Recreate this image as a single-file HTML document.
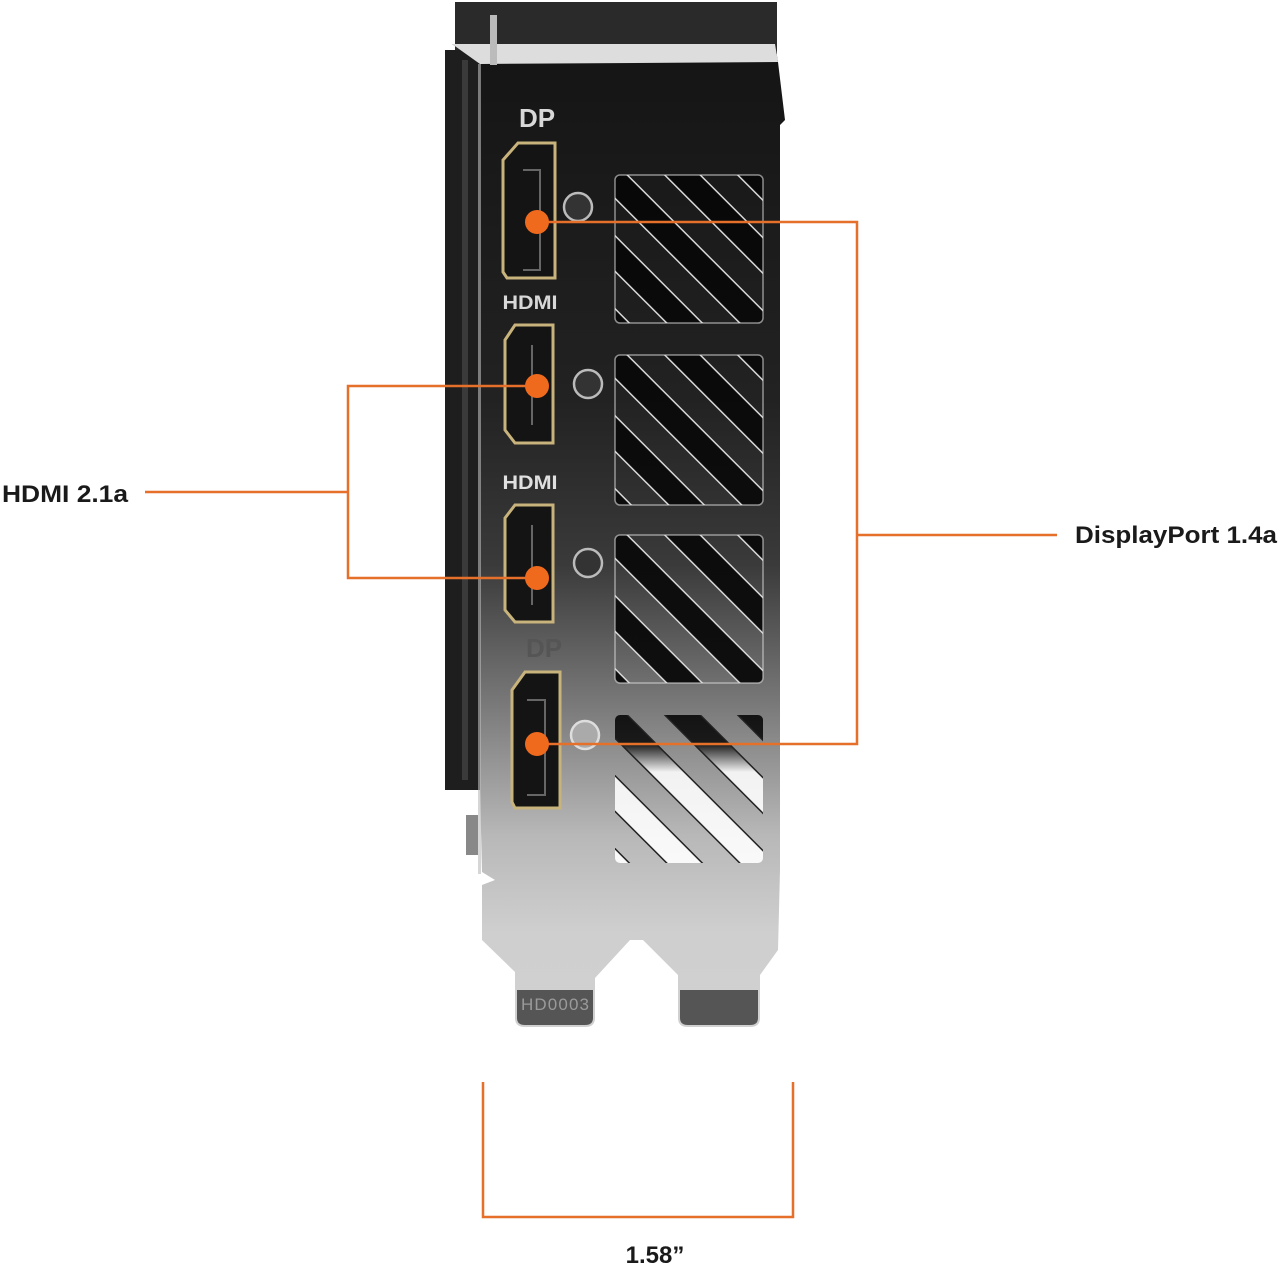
<!DOCTYPE html>
<html><head><meta charset="utf-8"><style>
html,body{margin:0;padding:0;background:#fff;}
svg{display:block}
</style></head><body>
<svg width="1280" height="1268" viewBox="0 0 1280 1268" xmlns="http://www.w3.org/2000/svg">
<defs>
<linearGradient id="metal" x1="0" y1="60" x2="0" y2="1030" gradientUnits="userSpaceOnUse">
<stop offset="0" stop-color="#151515"/>
<stop offset="0.35" stop-color="#222"/>
<stop offset="0.52" stop-color="#3a3a3a"/>
<stop offset="0.66" stop-color="#777"/>
<stop offset="0.8" stop-color="#b8b8b8"/>
<stop offset="0.9" stop-color="#cfcfcf"/>
<stop offset="1" stop-color="#d0d0d0"/>
</linearGradient>
<linearGradient id="hole" x1="0" y1="170" x2="0" y2="870" gradientUnits="userSpaceOnUse">
<stop offset="0" stop-color="#080808"/>
<stop offset="0.75" stop-color="#0e0e0e"/>
<stop offset="0.82" stop-color="#1a1a1a"/>
<stop offset="0.86" stop-color="#f2f2f2"/>
<stop offset="1" stop-color="#fafafa"/>
</linearGradient>
<clipPath id="g1"><rect x="615" y="175" width="148" height="148" rx="5"/></clipPath>
<clipPath id="g2"><rect x="615" y="355" width="148" height="150" rx="5"/></clipPath>
<clipPath id="g3"><rect x="615" y="535" width="148" height="148" rx="5"/></clipPath>
<clipPath id="g4"><rect x="615" y="715" width="148" height="148" rx="5"/></clipPath>
</defs>

<rect x="455" y="2" width="322" height="52" fill="#2a2a2a"/>
<rect x="445" y="50" width="40" height="740" fill="#1e1e1e"/>
<rect x="462" y="60" width="6" height="720" fill="#3a3a3a"/>
<rect x="466" y="815" width="12" height="40" fill="#888"/>

<path d="M452,44 L775,44 L778,62 L785,120 L780,125 L780,870 L778,950 L760,975 L760,1018 Q760,1027 750,1027 L688,1027 Q678,1027 678,1018 L678,975 L643,940 L630,940 L595,978 L595,1018 Q595,1027 585,1027 L525,1027 Q515,1027 515,1018 L515,972 L482,940 L482,885 L495,880 L482,872 L480,790 L480,64 Z" fill="url(#metal)"/>
<path d="M452,44 L775,44 L778,62 L480,64 Z" fill="#ddd"/>
<rect x="478" y="64" width="3" height="810" fill="#bbb" opacity="0.6"/>
<rect x="490" y="15" width="7" height="50" fill="#bbb"/>
<path d="M517,990 L593,990 L593,1018 Q593,1025 585,1025 L525,1025 Q517,1025 517,1018 Z" fill="#555"/>
<path d="M680,990 L758,990 L758,1018 Q758,1025 750,1025 L688,1025 Q680,1025 680,1018 Z" fill="#555"/>
<text x="555" y="1010" font-family="Liberation Sans, sans-serif" font-size="17" fill="#9a9a9a" text-anchor="middle" textLength="68">HD0003</text>

<g>
<g clip-path="url(#g1)"><rect x="600" y="160" width="180" height="180" fill="url(#hole)"/>
<g stroke="#d8d8d8" stroke-width="28">
<line x1="400" y1="75" x2="700" y2="375"/><line x1="473" y1="75" x2="773" y2="375"/><line x1="546" y1="75" x2="846" y2="375"/><line x1="619" y1="75" x2="919" y2="375"/></g>
<g stroke="url(#metal)" stroke-width="25">
<line x1="400" y1="75" x2="700" y2="375"/><line x1="473" y1="75" x2="773" y2="375"/><line x1="546" y1="75" x2="846" y2="375"/><line x1="619" y1="75" x2="919" y2="375"/></g></g>

<g clip-path="url(#g2)"><rect x="600" y="340" width="180" height="180" fill="url(#hole)"/>
<g stroke="#d8d8d8" stroke-width="28">
<line x1="400" y1="255" x2="700" y2="555"/><line x1="473" y1="255" x2="773" y2="555"/><line x1="546" y1="255" x2="846" y2="555"/><line x1="619" y1="255" x2="919" y2="555"/></g>
<g stroke="url(#metal)" stroke-width="25">
<line x1="400" y1="255" x2="700" y2="555"/><line x1="473" y1="255" x2="773" y2="555"/><line x1="546" y1="255" x2="846" y2="555"/><line x1="619" y1="255" x2="919" y2="555"/></g></g>

<g clip-path="url(#g3)"><rect x="600" y="520" width="180" height="180" fill="url(#hole)"/>
<g stroke="#d8d8d8" stroke-width="28">
<line x1="400" y1="435" x2="700" y2="735"/><line x1="473" y1="435" x2="773" y2="735"/><line x1="546" y1="435" x2="846" y2="735"/><line x1="619" y1="435" x2="919" y2="735"/></g>
<g stroke="url(#metal)" stroke-width="25">
<line x1="400" y1="435" x2="700" y2="735"/><line x1="473" y1="435" x2="773" y2="735"/><line x1="546" y1="435" x2="846" y2="735"/><line x1="619" y1="435" x2="919" y2="735"/></g></g>

<g clip-path="url(#g4)"><rect x="600" y="700" width="180" height="180" fill="url(#hole)"/>
<g stroke="#222" stroke-width="28">
<line x1="400" y1="615" x2="700" y2="915"/><line x1="473" y1="615" x2="773" y2="915"/><line x1="546" y1="615" x2="846" y2="915"/><line x1="619" y1="615" x2="919" y2="915"/></g>
<g stroke="url(#metal)" stroke-width="25">
<line x1="400" y1="615" x2="700" y2="915"/><line x1="473" y1="615" x2="773" y2="915"/><line x1="546" y1="615" x2="846" y2="915"/><line x1="619" y1="615" x2="919" y2="915"/></g></g>
</g>
<g fill="none" stroke="#ddd" stroke-width="1.5" opacity="0.6">
<rect x="615" y="175" width="148" height="148" rx="5"/><rect x="615" y="355" width="148" height="150" rx="5"/>
<rect x="615" y="535" width="148" height="148" rx="5"/>
</g>

<g font-family="Liberation Sans, sans-serif" font-weight="bold" fill="#d8d8d8" text-anchor="middle">
<text x="537" y="127" font-size="26">DP</text>
<text x="530" y="309" font-size="19" textLength="55" lengthAdjust="spacingAndGlyphs">HDMI</text>
<text x="530" y="489" font-size="19" textLength="55" lengthAdjust="spacingAndGlyphs" fill="#e0e0e0">HDMI</text>
<text x="544" y="657" font-size="26" fill="#555">DP</text>
</g>

<g stroke="#c9b37c" stroke-width="3" fill="#141414">
<path d="M503,160 L518,143 L555,143 L555,278 L507,278 L503,272 Z"/>
<path d="M505,340 L515,325 L553,325 L553,443 L515,443 L505,430 Z"/>
<path d="M505,518 L515,505 L553,505 L553,622 L515,622 L505,610 Z"/>
<path d="M512,690 L525,672 L560,672 L560,808 L515,808 L512,802 Z"/>
</g>
<g fill="none" stroke="#666" stroke-width="2">
<path d="M523,170 L540,170 L540,270 L523,270"/>
<line x1="532" y1="345" x2="532" y2="425"/>
<line x1="532" y1="525" x2="532" y2="605"/>
<path d="M527,700 L545,700 L545,795 L527,795"/>
</g>
<g fill="#333" stroke="#bbb" stroke-width="2.5">
<circle cx="578" cy="207" r="14"/><circle cx="588" cy="384" r="14"/><circle cx="588" cy="563" r="14"/><circle cx="585" cy="735" r="14" fill="#aaa" stroke="#ddd"/>
</g>

<g stroke="#e66f2a" stroke-width="2.5" fill="none">
<polyline points="537,222 857,222 857,744 537,744"/>
<line x1="857" y1="535" x2="1057" y2="535"/>
<polyline points="537,386 348,386 348,578 537,578"/>
<line x1="145" y1="492" x2="348" y2="492"/>
<polyline points="483,1082 483,1217 793,1217 793,1082"/>
</g>
<g fill="#f06a1e">
<circle cx="537" cy="222" r="12"/><circle cx="537" cy="386" r="12"/><circle cx="537" cy="578" r="12"/><circle cx="537" cy="744" r="12"/>
</g>

<g font-family="Liberation Sans, sans-serif" font-weight="bold" fill="#1a1a1a" font-size="24">
<text x="2" y="502" textLength="126" lengthAdjust="spacingAndGlyphs">HDMI 2.1a</text>
<text x="1075" y="543" textLength="202" lengthAdjust="spacingAndGlyphs">DisplayPort 1.4a</text>
<text x="655" y="1263" text-anchor="middle">1.58”</text>
</g>
</svg>
</body></html>
